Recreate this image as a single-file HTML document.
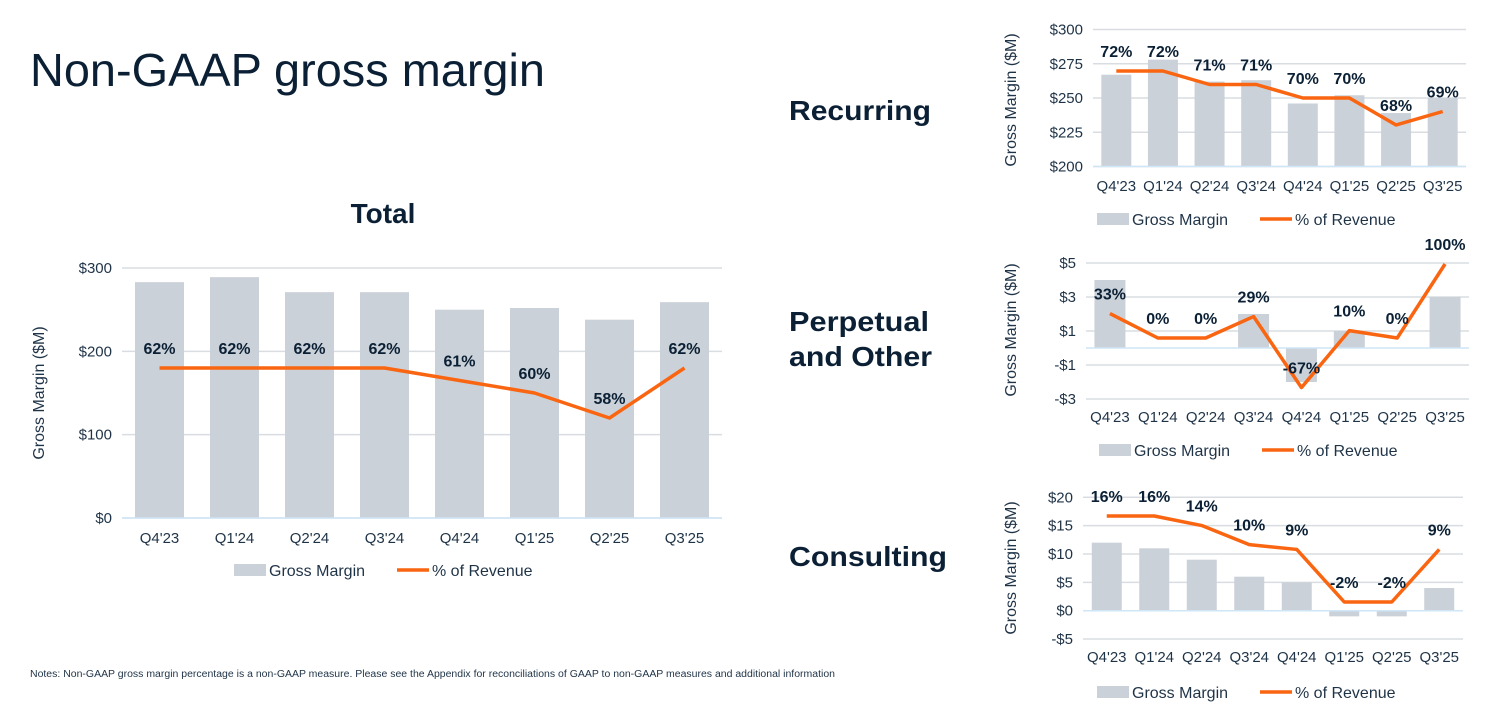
<!DOCTYPE html>
<html><head><meta charset="utf-8"><style>
html,body{margin:0;padding:0;background:#fff;}
svg{display:block;font-family:"Liberation Sans",sans-serif;}
</style></head><body>
<svg id="page" width="1497" height="711" viewBox="0 0 1497 711">
<text x="30" y="86" font-size="46" fill="#0b2035" textLength="515" lengthAdjust="spacingAndGlyphs">Non-GAAP gross margin</text>
<text x="383" y="223" font-size="28" font-weight="bold" fill="#0b2035" text-anchor="middle">Total</text>
<text x="789" y="120" font-size="28" font-weight="bold" fill="#0b2035" textLength="142" lengthAdjust="spacingAndGlyphs">Recurring</text>
<text x="789" y="331" font-size="28" font-weight="bold" fill="#0b2035" textLength="140" lengthAdjust="spacingAndGlyphs">Perpetual</text>
<text x="789" y="366" font-size="28" font-weight="bold" fill="#0b2035" textLength="143" lengthAdjust="spacingAndGlyphs">and Other</text>
<text x="789" y="566" font-size="28" font-weight="bold" fill="#0b2035" textLength="158" lengthAdjust="spacingAndGlyphs">Consulting</text>
<text x="30" y="677" font-size="10" fill="#1f3347" textLength="805" lengthAdjust="spacingAndGlyphs">Notes: Non-GAAP gross margin percentage is a non-GAAP measure. Please see the Appendix for reconciliations of GAAP to non-GAAP measures and additional information</text>
<g id="charts"></g>
</svg>
<script>
const categories = ["Q4'23","Q1'24","Q2'24","Q3'24","Q4'24","Q1'25","Q2'25","Q3'25"];
// Total
const totalBars = [283,289,271,271,250,252,238,259];
const totalPct = [62,62,62,62,61,60,58,62];
const totalTicks = [0,100,200,300];
const totalTickLabels = ["$0","$100","$200","$300"];
// Recurring
const recurringBars = [267,278,262,263,246,252,239,250];
const recurringPct = [72,72,71,71,70,70,68,69];
const recurringTicks = [200,225,250,275,300];
const recurringTickLabels = ["$200","$225","$250","$275","$300"];
// Perpetual and Other
const perpetualBars = [4,0,0,2,-2,1,0,3];
const perpetualPct = [33,0,0,29,-67,10,0,100];
const perpetualTicks = [-3,-1,1,3,5];
const perpetualTickLabels = ["-$3","-$1","$1","$3","$5"];
// Consulting
const consultingBars = [12,11,9,6,5,-1,-1,4];
const consultingPct = [16,16,14,10,9,-2,-2,9];
const consultingTicks = [-5,0,5,10,15,20];
const consultingTickLabels = ["-$5","$0","$5","$10","$15","$20"];

const NS="http://www.w3.org/2000/svg";
const root=document.getElementById('charts');
function mk(tag,attrs,parent,txt){const e=document.createElementNS(NS,tag);for(const k in attrs)e.setAttribute(k,attrs[k]);if(txt!==undefined)e.textContent=txt;parent.appendChild(e);return e;}

function chart(cfg){
  const g=mk('g',{},root);
  
  
  const y=v=>cfg.y0px+(v-cfg.v0)*(cfg.y1px-cfg.y0px)/(cfg.v1-cfg.v0);
  const yp=p=>cfg.p0px+(p-cfg.p0)*(cfg.p1px-cfg.p0px)/(cfg.p1-cfg.p0);
  const band=(cfg.right-cfg.left)/categories.length;
  const xc=i=>cfg.left+band*(i+0.5);
  cfg.ticks.forEach((t,i)=>{
    const l=mk('line',{x1:cfg.left,x2:cfg.right,y1:y(t),y2:y(t),stroke:'#d9dde2','stroke-width':1.5},g);
    
    
    const tx=mk('text',{x:cfg.left-10,y:y(t)+5,'font-size':cfg.fs,fill:'#1f3347','text-anchor':'end'},g,cfg.tickLabels[i]);
    
    
  });
  cfg.bars.forEach((v,i)=>{
    const a=y(v),b=y(cfg.base);
    const r=mk('rect',{x:xc(i)-cfg.bw/2,y:Math.min(a,b),width:cfg.bw,height:Math.abs(a-b),fill:'#cbd1d8'},g);
    
    
  });
  const zl=mk('line',{x1:cfg.left,x2:cfg.right,y1:y(cfg.base),y2:y(cfg.base),stroke:'#cfe6f7','stroke-width':1.5},g);
  
  
  const pts=cfg.pct.map((p,i)=>xc(i)+','+yp(p)).join(' ');
  const pl=mk('polyline',{points:pts,fill:'none',stroke:'#fa6511','stroke-width':3.5,'stroke-linejoin':'round'},g);
  
  
  cfg.pct.forEach((p,i)=>{
    const t=mk('text',{x:xc(i),y:yp(p)-14,'font-size':cfg.fs+1,'font-weight':'bold',fill:'#0b2035','text-anchor':'middle'},g,p+'%');
    
    
  });
  categories.forEach((c,i)=>{
    const t=mk('text',{x:xc(i),y:cfg.catY,'font-size':cfg.fs,fill:'#1f3347','text-anchor':'middle'},g,c);
    
    
  });
  const yt=mk('text',{x:0,y:0,'font-size':16,fill:'#1f3347','text-anchor':'middle',transform:'translate('+cfg.titleX+','+cfg.titleY+') rotate(-90)'},g,'Gross Margin ($M)');
  
  
  const lg=mk('g',{},g);
  
  
  const lx=cfg.legX, ly=cfg.legY;
  const sw=mk('rect',{x:lx,y:ly-6,width:32,height:12,fill:'#cbd1d8'},lg);
  
  
  const t1=mk('text',{x:lx+35,y:ly+6,'font-size':16,fill:'#1f3347'},lg,'Gross Margin');
  
  
  const l2=mk('line',{x1:lx+163,x2:lx+195,y1:ly,y2:ly,stroke:'#fa6511','stroke-width':3.5},lg);
  
  
  const t2=mk('text',{x:lx+198,y:ly+6,'font-size':16,fill:'#1f3347'},lg,'% of Revenue');
  
  
}

chart({name:'total',bars:totalBars,pct:totalPct,ticks:totalTicks,tickLabels:totalTickLabels,
  left:122,right:722,bw:49,v0:0,v1:300,y0px:518,y1px:268,base:0,p0:58,p1:62,p0px:418,p1px:368,
  fs:15,catY:543,titleX:44,titleY:393,legX:234,legY:570});
chart({name:'recurring',bars:recurringBars,pct:recurringPct,ticks:recurringTicks,tickLabels:recurringTickLabels,
  left:1093,right:1466,bw:30,v0:200,v1:300,y0px:166.5,y1px:29.5,base:200,p0:68,p1:72,p0px:125,p1px:71,
  fs:15,catY:191,titleX:1016,titleY:100,legX:1097,legY:219});
chart({name:'perpetual',bars:perpetualBars,pct:perpetualPct,ticks:perpetualTicks,tickLabels:perpetualTickLabels,
  left:1086,right:1469,bw:31,v0:-3,v1:5,y0px:399,y1px:263,base:0,p0:0,p1:100,p0px:338,p1px:264,
  fs:15,catY:422,titleX:1016,titleY:330,legX:1099,legY:450});
chart({name:'consulting',bars:consultingBars,pct:consultingPct,ticks:consultingTicks,tickLabels:consultingTickLabels,
  left:1083,right:1463,bw:30,v0:0,v1:20,y0px:610.7,y1px:497.3,base:0,p0:-2,p1:16,p0px:602,p1px:516,
  fs:15,catY:662,titleX:1016,titleY:568,legX:1097,legY:692});
</script>
</body></html>
